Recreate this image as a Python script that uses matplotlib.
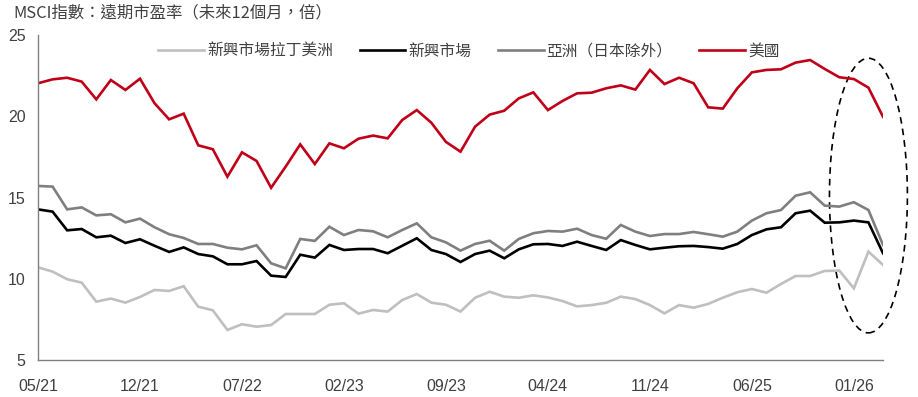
import matplotlib
matplotlib.use("Agg")
import matplotlib.pyplot as plt
from matplotlib.patches import Ellipse
import numpy as np

plt.rcParams['font.family'] = ['Liberation Sans Narrow', 'Liberation Sans', 'Noto Sans CJK TC', 'DejaVu Sans']

months = ["05/21","06/21","07/21","08/21","09/21","10/21","11/21","12/21","01/22","02/22","03/22","04/22",
          "05/22","06/22","07/22","08/22","09/22","10/22","11/22","12/22","01/23","02/23","03/23","04/23",
          "05/23","06/23","07/23","08/23","09/23","10/23","11/23","12/23","01/24","02/24","03/24","04/24",
          "05/24","06/24","07/24","08/24","09/24","10/24","11/24","12/24","01/25","02/25","03/25","04/25",
          "05/25","06/25","07/25","08/25","09/25","10/25","11/25","12/25","01/26","02/26","03/26"]

tick_labels = ["05/21", "12/21", "07/22", "02/23", "09/23", "04/24", "11/24", "06/25", "01/26"]

latam = [10.70, 10.44, 9.97, 9.76, 8.59, 8.78, 8.53, 8.88, 9.31, 9.25, 9.54, 8.28, 8.06, 6.85, 7.20, 7.05,
         7.15, 7.83, 7.83, 7.83, 8.40, 8.49, 7.85, 8.08, 7.98, 8.69, 9.06, 8.53, 8.40, 7.98, 8.83, 9.20,
         8.90, 8.83, 8.98, 8.85, 8.63, 8.30, 8.38, 8.52, 8.90, 8.75, 8.38, 7.87, 8.38, 8.22, 8.45, 8.83,
         9.17, 9.37, 9.14, 9.68, 10.17, 10.17, 10.48, 10.50, 9.41, 11.67, 10.85]

em = [14.27, 14.13, 12.98, 13.06, 12.55, 12.65, 12.20, 12.43, 12.03, 11.65, 11.93, 11.52, 11.38, 10.89,
      10.89, 11.09, 10.19, 10.11, 11.48, 11.30, 12.08, 11.77, 11.83, 11.83, 11.57, 12.03, 12.49, 11.77,
      11.52, 11.03, 11.52, 11.73, 11.26, 11.81, 12.12, 12.14, 12.02, 12.28, 12.02, 11.77, 12.38, 12.08,
      11.81, 11.91, 12.00, 12.02, 11.95, 11.85, 12.14, 12.69, 13.04, 13.17, 14.03, 14.19, 13.45, 13.47,
      13.58, 13.47, 11.57]

asia = [15.71, 15.67, 14.27, 14.39, 13.90, 13.97, 13.47, 13.70, 13.17, 12.74, 12.51, 12.14, 12.14, 11.91,
        11.81, 12.06, 10.95, 10.64, 12.45, 12.33, 13.20, 12.69, 13.00, 12.92, 12.55, 13.00, 13.41, 12.55,
        12.24, 11.73, 12.14, 12.34, 11.73, 12.45, 12.80, 12.94, 12.90, 13.08, 12.69, 12.46, 13.31, 12.90,
        12.63, 12.75, 12.75, 12.88, 12.74, 12.59, 12.90, 13.58, 14.03, 14.23, 15.11, 15.32, 14.50, 14.44,
        14.71, 14.23, 12.08]

us = [22.03, 22.27, 22.37, 22.13, 21.04, 22.23, 21.62, 22.31, 20.80, 19.81, 20.16, 18.21, 17.97, 16.28,
      17.78, 17.25, 15.60, 16.90, 18.27, 17.06, 18.33, 18.03, 18.62, 18.81, 18.64, 19.77, 20.38, 19.60,
      18.42, 17.82, 19.36, 20.10, 20.34, 21.10, 21.47, 20.38, 20.94, 21.41, 21.45, 21.72, 21.90, 21.64,
      22.85, 21.98, 22.37, 22.03, 20.55, 20.47, 21.72, 22.70, 22.85, 22.89, 23.30, 23.46, 22.91, 22.40,
      22.29, 21.76, 19.97]

series_names = ["新興市場拉丁美洲", "新興市場", "亞洲（日本除外）", "美國"]
series_colors = ["#bfbfbf", "#000000", "#7f7f7f", "#c00018"]
title = "MSCI指數：遠期市盈率（未來12個月，倍）"

fig = plt.figure(figsize=(9.18, 3.97), dpi=100)
ax = fig.add_axes([38/918, 1 - 360/397, (883 - 38)/918, (360 - 35)/397])

x = np.arange(len(months))
for vals, name, col in zip([latam, em, asia, us], series_names, series_colors):
    ax.plot(x, vals, color=col, lw=1.9, label=name, solid_joinstyle='miter')

ax.set_xlim(0, len(months) - 1)
ax.set_ylim(5, 25)
ax.set_yticks([5, 10, 15, 20, 25])
tick_pos = [months.index(t) for t in tick_labels]
ax.set_xticks(tick_pos)
ax.set_xticklabels(tick_labels)
for s in ["top", "right"]:
    ax.spines[s].set_visible(False)
for s in ["left", "bottom"]:
    ax.spines[s].set_color("#808080")
    ax.spines[s].set_linewidth(1.0)
ax.tick_params(length=0, labelsize=11.5, colors="#404040")
ax.tick_params(axis='y', pad=9)
ax.tick_params(axis='x', pad=14)

# dashed highlight ellipse
ell = Ellipse((57.0, 15.12), width=5.35, height=16.9, fill=False, ls=(0, (4, 3)),
              lw=1.2, edgecolor="black", clip_on=False)
ax.add_patch(ell)

leg = ax.legend(loc="upper center", bbox_to_anchor=(0.51, 1.0), ncol=4, frameon=False,
                prop={'family': ['Noto Sans CJK TC'], 'size': 11.3}, handlelength=2.9,
                handletextpad=0.2, columnspacing=1.7, borderaxespad=0.1)
for t in leg.get_texts():
    t.set_color("#404040")

fig.text(13/918, 1 - 13/397, title, fontsize=11.8, color="#404040", va="center", ha="left",
         family=['Noto Sans CJK TC', 'DejaVu Sans'])

fig.savefig("out.png", dpi=100)
